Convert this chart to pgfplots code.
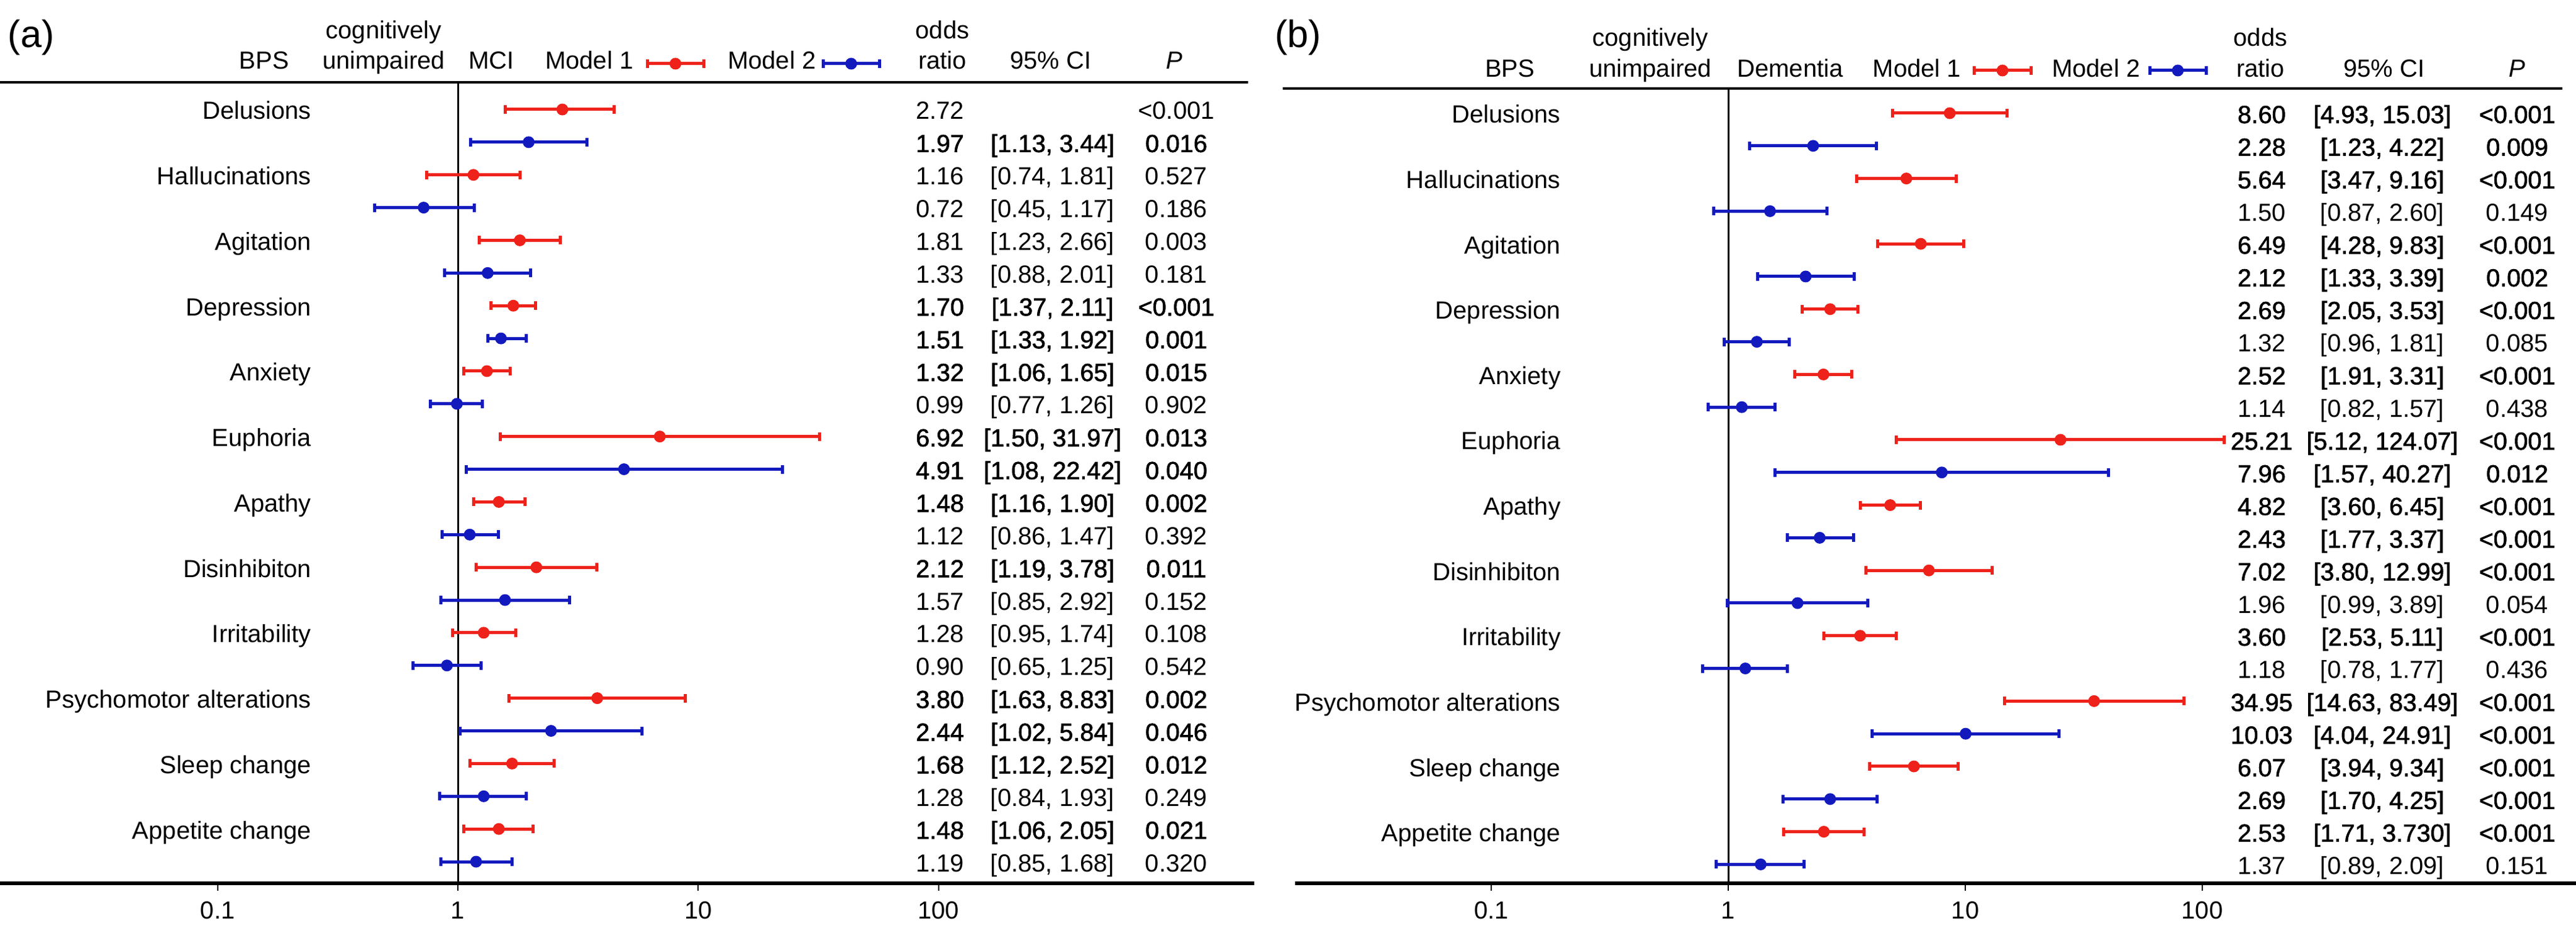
\documentclass[border=0pt]{standalone}
\usepackage{fontspec}
\setmainfont{Liberation Sans}[BoldFont={Liberation Sans}, BoldFeatures={FakeBold=1.6}]
\usepackage{pgfplots}
\pgfplotsset{compat=1.18}

\definecolor{mred}{RGB}{238,34,26}
\definecolor{mblue}{RGB}{18,26,190}

% pixel position of the reference -> picture coordinates
\newcommand\px[2]{({(#1)*0.2pt},{(1428-(#2))*0.2pt})}
% confidence interval with end caps: colour, lower, upper, row
\newcommand\ci[4]{\addplot[#1, line width=1pt, mark=|, mark size=1.4pt,
  mark options={solid, line width=1pt}] coordinates {(#2,#4) (#3,#4)};}
% table rows of the two panels: row, odds ratio, CI, P
\newcommand\rowa[4]{%
  \node[anchor=base] at \px{1519}{193+52.87*#1} {#2};
  \node[anchor=base] at \px{1701}{193+52.87*#1} {#3};
  \node[anchor=base] at \px{1901}{193+52.87*#1} {#4};}
\newcommand\rowb[4]{%
  \node[anchor=base] at \px{3655}{199+52.8*#1} {#2};
  \node[anchor=base] at \px{3850}{199+52.8*#1} {#3};
  \node[anchor=base] at \px{4068}{199+52.8*#1} {#4};}

\begin{document}
\begin{tikzpicture}
\useasboundingbox \px{0}{1496} rectangle \px{4163}{0};

% ---------------- panel (a) ----------------
\begin{axis}[xmode=log, scale only axis, height=259pt, width=405.4pt,
  at={(0pt,0pt)}, anchor=south west,
  xmin=0.01242, xmax=2062, ymin=-0.8322, ymax=23.662, y dir=reverse,
  axis x line=bottom, axis y line=none,
  axis line style={-, line width=1.2pt},
  xtick={0.1,1,10,100}, xticklabels={0.1,1,10,100}, xminorticks=false,
  tick align=outside, major tick length=2.4pt,
  xtick style={black, line width=0.4pt},
  ticklabel style={font=\fontsize{8}{9.6}\selectfont},
  clip=false]
\addplot[black, line width=0.6pt] coordinates {(1,-0.8322) (1,23.662)};
% Model 1
\ci{mred}{1.57}{4.46}{0}
\ci{mred}{0.74}{1.81}{2}
\ci{mred}{1.23}{2.66}{4}
\ci{mred}{1.37}{2.11}{6}
\ci{mred}{1.06}{1.65}{8}
\ci{mred}{1.50}{31.97}{10}
\ci{mred}{1.16}{1.90}{12}
\ci{mred}{1.19}{3.78}{14}
\ci{mred}{0.95}{1.74}{16}
\ci{mred}{1.63}{8.83}{18}
\ci{mred}{1.12}{2.52}{20}
\ci{mred}{1.06}{2.05}{22}
% Model 2
\ci{mblue}{1.13}{3.44}{1}
\ci{mblue}{0.45}{1.17}{3}
\ci{mblue}{0.88}{2.01}{5}
\ci{mblue}{1.33}{1.92}{7}
\ci{mblue}{0.77}{1.26}{9}
\ci{mblue}{1.08}{22.42}{11}
\ci{mblue}{0.86}{1.47}{13}
\ci{mblue}{0.85}{2.92}{15}
\ci{mblue}{0.65}{1.25}{17}
\ci{mblue}{1.02}{5.84}{19}
\ci{mblue}{0.84}{1.93}{21}
\ci{mblue}{0.85}{1.68}{23}
\addplot[only marks, mark=*, mred, mark size=1.7pt] coordinates {
  (2.72,0) (1.16,2) (1.81,4) (1.70,6) (1.32,8) (6.92,10)
  (1.48,12) (2.12,14) (1.28,16) (3.80,18) (1.68,20) (1.48,22)};
\addplot[only marks, mark=*, mblue, mark size=1.7pt] coordinates {
  (1.97,1) (0.72,3) (1.33,5) (1.51,7) (0.99,9) (4.91,11)
  (1.12,13) (1.57,15) (0.90,17) (2.44,19) (1.28,21) (1.19,23)};
% legend samples
\ci{mred}{6.14}{10.53}{-1.40}
\addplot[only marks, mark=*, mred, mark size=1.7pt] coordinates {(8.04,-1.40)};
\ci{mblue}{33.06}{56.73}{-1.40}
\addplot[only marks, mark=*, mblue, mark size=1.7pt] coordinates {(43.31,-1.40)};
\end{axis}

% ---------------- panel (b) ----------------
\begin{axis}[xmode=log, scale only axis, height=259pt, width=414pt,
  at={(418.6pt,0pt)}, anchor=south west,
  xmin=0.01487, xmax=3776, ymin=-0.947, ymax=23.58, y dir=reverse,
  axis x line=bottom, axis y line=none,
  axis line style={-, line width=1.2pt},
  xtick={0.1,1,10,100}, xticklabels={0.1,1,10,100}, xminorticks=false,
  tick align=outside, major tick length=2.4pt,
  xtick style={black, line width=0.4pt},
  ticklabel style={font=\fontsize{8}{9.6}\selectfont},
  clip=false]
\addplot[black, line width=0.6pt] coordinates {(1,-0.758) (1,23.58)};
% Model 1
\ci{mred}{4.93}{15.03}{0}
\ci{mred}{3.47}{9.16}{2}
\ci{mred}{4.28}{9.83}{4}
\ci{mred}{2.05}{3.53}{6}
\ci{mred}{1.91}{3.31}{8}
\ci{mred}{5.12}{124.07}{10}
\ci{mred}{3.60}{6.45}{12}
\ci{mred}{3.80}{12.99}{14}
\ci{mred}{2.53}{5.11}{16}
\ci{mred}{14.63}{83.49}{18}
\ci{mred}{3.94}{9.34}{20}
\ci{mred}{1.71}{3.73}{22}
% Model 2
\ci{mblue}{1.23}{4.22}{1}
\ci{mblue}{0.87}{2.60}{3}
\ci{mblue}{1.33}{3.39}{5}
\ci{mblue}{0.96}{1.81}{7}
\ci{mblue}{0.82}{1.57}{9}
\ci{mblue}{1.57}{40.27}{11}
\ci{mblue}{1.77}{3.37}{13}
\ci{mblue}{0.99}{3.89}{15}
\ci{mblue}{0.78}{1.77}{17}
\ci{mblue}{4.04}{24.91}{19}
\ci{mblue}{1.70}{4.25}{21}
\ci{mblue}{0.89}{2.09}{23}
\addplot[only marks, mark=*, mred, mark size=1.7pt] coordinates {
  (8.60,0) (5.64,2) (6.49,4) (2.69,6) (2.52,8) (25.21,10)
  (4.82,12) (7.02,14) (3.60,16) (34.95,18) (6.07,20) (2.53,22)};
\addplot[only marks, mark=*, mblue, mark size=1.7pt] coordinates {
  (2.28,1) (1.50,3) (2.12,5) (1.32,7) (1.14,9) (7.96,11)
  (2.43,13) (1.96,15) (1.18,17) (10.03,19) (2.69,21) (1.37,23)};
% legend samples
\ci{mred}{10.88}{18.92}{-1.307}
\addplot[only marks, mark=*, mred, mark size=1.7pt] coordinates {(14.35,-1.307)};
\ci{mblue}{59.99}{103.7}{-1.307}
\addplot[only marks, mark=*, mblue, mark size=1.7pt] coordinates {(78.86,-1.307)};
\end{axis}

\begin{scope}[font=\fontsize{8}{9.6}\selectfont, inner sep=0pt]
% rules under the headers
\draw[line width=0.8pt] \px{0}{133} -- \px{2017}{133};
\draw[line width=0.8pt] \px{2073}{143} -- \px{4141}{143};

% ---------------- headers ----------------
\node[anchor=base west, font=\fontsize{12.3}{14}\selectfont] at \px{12}{77} {(a)};
\node[anchor=base] at \px{427}{112} {BPS};
\node[anchor=base] at \px{620}{63} {cognitively};
\node[anchor=base] at \px{620}{112} {unimpaired};
\node[anchor=base] at \px{794}{112} {MCI};
\node[anchor=base west] at \px{880}{112} {Model 1};
\node[anchor=base west] at \px{1175}{112} {Model 2};
\node[anchor=base] at \px{1523}{63} {odds};
\node[anchor=base] at \px{1523}{112} {ratio};
\node[anchor=base] at \px{1698}{112} {95\% CI};
\node[anchor=base] at \px{1898}{112} {\textit{P}};

\node[anchor=base west, font=\fontsize{12.3}{14}\selectfont] at \px{2059}{77} {(b)};
\node[anchor=base] at \px{2440}{125} {BPS};
\node[anchor=base] at \px{2667}{75} {cognitively};
\node[anchor=base] at \px{2667}{125} {unimpaired};
\node[anchor=base] at \px{2893}{125} {Dementia};
\node[anchor=base east] at \px{3170}{125} {Model 1};
\node[anchor=base west] at \px{3315}{125} {Model 2};
\node[anchor=base] at \px{3653}{75} {odds};
\node[anchor=base] at \px{3653}{125} {ratio};
\node[anchor=base] at \px{3853}{125} {95\% CI};
\node[anchor=base] at \px{4068}{125} {\textit{P}};

% ---------------- symptom names ----------------
\foreach \name [count=\k from 0] in {Delusions, Hallucinations, Agitation,
  Depression, Anxiety, Euphoria, Apathy, Disinhibiton, Irritability,
  Psychomotor alterations, Sleep change, Appetite change} {
  \node[anchor=base east] at \px{504}{193+52.87*2*\k} {\name};
  \node[anchor=base east] at \px{2523}{199+52.8*2*\k} {\name};
}

% ---------------- table (a) ----------------
\rowa{0}{2.72}{}{<0.001}
\rowa{1}{\bfseries 1.97}{\bfseries [1.13, 3.44]}{\bfseries 0.016}
\rowa{2}{1.16}{[0.74, 1.81]}{0.527}
\rowa{3}{0.72}{[0.45, 1.17]}{0.186}
\rowa{4}{1.81}{[1.23, 2.66]}{0.003}
\rowa{5}{1.33}{[0.88, 2.01]}{0.181}
\rowa{6}{\bfseries 1.70}{\bfseries [1.37, 2.11]}{\bfseries <0.001}
\rowa{7}{\bfseries 1.51}{\bfseries [1.33, 1.92]}{\bfseries 0.001}
\rowa{8}{\bfseries 1.32}{\bfseries [1.06, 1.65]}{\bfseries 0.015}
\rowa{9}{0.99}{[0.77, 1.26]}{0.902}
\rowa{10}{\bfseries 6.92}{\bfseries [1.50, 31.97]}{\bfseries 0.013}
\rowa{11}{\bfseries 4.91}{\bfseries [1.08, 22.42]}{\bfseries 0.040}
\rowa{12}{\bfseries 1.48}{\bfseries [1.16, 1.90]}{\bfseries 0.002}
\rowa{13}{1.12}{[0.86, 1.47]}{0.392}
\rowa{14}{\bfseries 2.12}{\bfseries [1.19, 3.78]}{\bfseries 0.011}
\rowa{15}{1.57}{[0.85, 2.92]}{0.152}
\rowa{16}{1.28}{[0.95, 1.74]}{0.108}
\rowa{17}{0.90}{[0.65, 1.25]}{0.542}
\rowa{18}{\bfseries 3.80}{\bfseries [1.63, 8.83]}{\bfseries 0.002}
\rowa{19}{\bfseries 2.44}{\bfseries [1.02, 5.84]}{\bfseries 0.046}
\rowa{20}{\bfseries 1.68}{\bfseries [1.12, 2.52]}{\bfseries 0.012}
\rowa{21}{1.28}{[0.84, 1.93]}{0.249}
\rowa{22}{\bfseries 1.48}{\bfseries [1.06, 2.05]}{\bfseries 0.021}
\rowa{23}{1.19}{[0.85, 1.68]}{0.320}

% ---------------- table (b) ----------------
\rowb{0}{\bfseries 8.60}{\bfseries [4.93, 15.03]}{\bfseries <0.001}
\rowb{1}{\bfseries 2.28}{\bfseries [1.23, 4.22]}{\bfseries 0.009}
\rowb{2}{\bfseries 5.64}{\bfseries [3.47, 9.16]}{\bfseries <0.001}
\rowb{3}{1.50}{[0.87, 2.60]}{0.149}
\rowb{4}{\bfseries 6.49}{\bfseries [4.28, 9.83]}{\bfseries <0.001}
\rowb{5}{\bfseries 2.12}{\bfseries [1.33, 3.39]}{\bfseries 0.002}
\rowb{6}{\bfseries 2.69}{\bfseries [2.05, 3.53]}{\bfseries <0.001}
\rowb{7}{1.32}{[0.96, 1.81]}{0.085}
\rowb{8}{\bfseries 2.52}{\bfseries [1.91, 3.31]}{\bfseries <0.001}
\rowb{9}{1.14}{[0.82, 1.57]}{0.438}
\rowb{10}{\bfseries 25.21}{\bfseries [5.12, 124.07]}{\bfseries <0.001}
\rowb{11}{\bfseries 7.96}{\bfseries [1.57, 40.27]}{\bfseries 0.012}
\rowb{12}{\bfseries 4.82}{\bfseries [3.60, 6.45]}{\bfseries <0.001}
\rowb{13}{\bfseries 2.43}{\bfseries [1.77, 3.37]}{\bfseries <0.001}
\rowb{14}{\bfseries 7.02}{\bfseries [3.80, 12.99]}{\bfseries <0.001}
\rowb{15}{1.96}{[0.99, 3.89]}{0.054}
\rowb{16}{\bfseries 3.60}{\bfseries [2.53, 5.11]}{\bfseries <0.001}
\rowb{17}{1.18}{[0.78, 1.77]}{0.436}
\rowb{18}{\bfseries 34.95}{\bfseries [14.63, 83.49]}{\bfseries <0.001}
\rowb{19}{\bfseries 10.03}{\bfseries [4.04, 24.91]}{\bfseries <0.001}
\rowb{20}{\bfseries 6.07}{\bfseries [3.94, 9.34]}{\bfseries <0.001}
\rowb{21}{\bfseries 2.69}{\bfseries [1.70, 4.25]}{\bfseries <0.001}
\rowb{22}{\bfseries 2.53}{\bfseries [1.71, 3.730]}{\bfseries <0.001}
\rowb{23}{1.37}{[0.89, 2.09]}{0.151}
\end{scope}
\end{tikzpicture}
\end{document}
